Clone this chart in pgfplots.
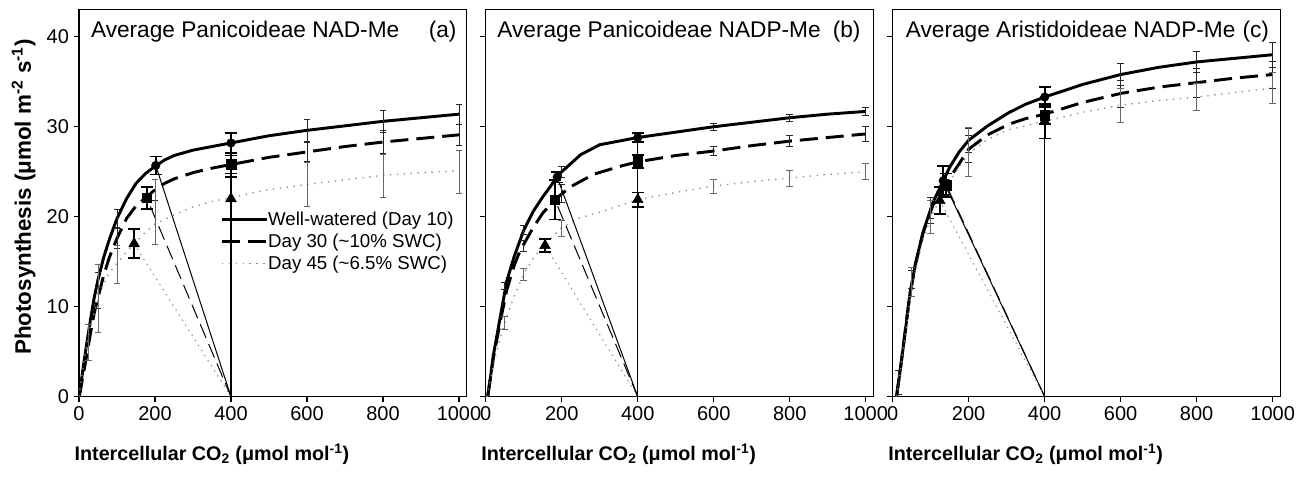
\documentclass[border=0pt]{standalone}
\usepackage{pgfplots}
\pgfplotsset{compat=1.18}
\usepackage{fontspec}
\setmainfont{Liberation Sans}
\definecolor{dotgray}{gray}{0.55}
\tikzset{
  ptitle/.style={anchor=base west, font=\fontsize{17}{17}\selectfont, inner sep=0pt},
  plabel/.style={anchor=base east, font=\fontsize{17}{17}\selectfont, inner sep=0pt},
}
\pgfplotsset{
  panel/.style={
    scale only axis, width=290.7pt, height=290.25pt,
    xmin=0, xmax=1020, ymin=0, ymax=43,
    xtick={0,200,400,600,800,1000}, ytick={0,10,20,30,40},
    tick align=outside, tick pos=left,
    major tick length=4pt,
    axis line style={line width=0.8pt},
    every tick/.style={black, line width=0.8pt},
    /pgf/number format/assume math mode=true,
    /pgf/number format/1000 sep={},
    tick label style={font=\fontsize{15}{15}\selectfont},
    xlabel style={at={(axis description cs:0.343,-0.165)}, anchor=base, font=\fontsize{14.8}{15}\selectfont\bfseries},
    ylabel style={at={(axis description cs:-0.124,0.516)}, anchor=base, rotate=0, font=\fontsize{16.8}{17}\selectfont\bfseries},
    xlabel={Intercellular CO\textsubscript{2} (μmol mol\textsuperscript{-1})},
  },
  curveA/.style={black, line width=2.2pt},
  curveB/.style={black, line width=2.2pt, dash pattern=on 13.5pt off 6pt},
  curveC/.style={dotgray, line width=1pt, dash pattern=on 1pt off 4.2pt},
  supA/.style={black, line width=0.75pt, forget plot},
  supB/.style={black, line width=0.75pt, dash pattern=on 11pt off 5pt, forget plot},
  supC/.style={dotgray, line width=0.8pt, dash pattern=on 1pt off 3.5pt, forget plot},
  thinbar/.style={only marks, mark=text, text mark={}, forget plot, #1, error bars/.cd, y dir=both, y explicit, error bar style={#1, line width=0.6pt, solid}, error mark options={#1, rotate=90, mark size=2.5pt, line width=0.6pt, solid}},
  mkbar/.style={only marks, forget plot, black, mark=#1, mark options={fill=black, solid}, error bars/.cd, y dir=both, y explicit, error bar style={line width=1.3pt, solid}, error mark options={rotate=90, mark size=4.5pt, line width=1.3pt, solid}},
}
\begin{document}
\begin{tikzpicture}
\path[use as bounding box] (0,0) rectangle (979.5pt,359.25pt);
% ---------------- panel (a)
\begin{axis}[panel, at={(59.25pt,61.7pt)}, anchor=south west,
  ylabel={Photosynthesis (μmol m\textsuperscript{-2} s\textsuperscript{-1})},
  ylabel style={rotate=0},
  legend style={draw=none, fill=none, at={(axis cs:371,20.6)}, anchor=north west, inner sep=0pt,
    font=\fontsize{14}{14}\selectfont, row sep=5pt, nodes={inner sep=0pt, text depth=0.15em},
    /tikz/every even column/.append style={column sep=9pt}},
  legend image code/.code={\draw[#1] (0pt,0pt) -- (33.75pt,0pt);},
  legend cell align=left]
\addplot[curveA] table {
x y
0 0
3 0.6
10 3
20 5.8
30 8.5
40 11
50 13
65 15.5
80 17.5
100 19.8
125 22
150 23.7
175 24.8
200 25.6
225 26.3
250 26.8
300 27.4
350 27.8
400 28.2
500 29
600 29.6
700 30.1
800 30.6
900 31
1000 31.4
};
\addlegendentry{Well-watered (Day 10)}
\addplot[curveB] table {
x y
0 0
5 1
10 2.2
20 4.5
30 7
40 9.3
50 11
65 13.5
80 15.5
100 17.6
125 19.8
150 21.2
178 22.2
200 23
225 23.7
250 24.2
300 24.9
350 25.4
400 25.8
500 26.6
600 27.2
700 27.8
800 28.3
900 28.7
1000 29.1
};
\addlegendentry{Day 30 (\textasciitilde10\% SWC)}
\addplot[curveC] table {
x y
0 0
10 3
16 4.8
30 7.8
50 10.8
64 12.5
80 13.8
100 14.8
125 16.1
150 17.2
178 18.4
200 19.2
240 20
300 21.1
350 21.7
400 22.1
450 22.6
500 23
600 23.6
700 24.1
800 24.6
900 24.9
1000 25.1
};
\addlegendentry{Day 45 (\textasciitilde6.5\% SWC)}
\addplot[supA] coordinates {(400,0) (202,25.7)};
\addplot[supB] coordinates {(400,0) (178,22.1)};
\addplot[supC] coordinates {(400,0) (145,17.0)};
\addplot[black, line width=1pt, forget plot] coordinates {(400,0) (400,28.2)};
\addplot[thinbar=black!85] table[x=x, y=y, y error=e] {
x y e
50 13 0.8
100 19.8 1.0
600 29.6 1.2
800 30.6 1.2
1000 31.4 1.1
};
\addplot[thinbar=black!85] table[x=x, y=y, y error=e] {
x y e
50 11 1.2
100 17.6 1.1
200 23 1.2
600 27.2 1.1
800 28.3 1.3
1000 29.1 1.2
};
\addplot[thinbar=black!60] table[x=x, y=y, y error=e] {
x y e
25 6 2
50 10.9 3.8
100 14.7 2.1
200 20.5 3.6
600 23.6 2.4
800 24.5 2.4
1000 25 2.4
};
\addplot[mark size=3.2pt, mkbar=*] table[x=x, y=y, y error=e] {
x y e
202 25.7 1.0
400 28.2 1.1
};
\addplot[mark size=3.6pt, mkbar=square*] table[x=x, y=y, y error=e] {
x y e
178 22.1 1.2
400 25.8 1.0
};
\addplot[mark size=4.6pt, mkbar=triangle*] table[x=x, y=y, y error=e] {
x y e
145 17.0 1.6
400 22.0 2.4
};
\node[ptitle] at (axis cs:31,39.9) {Average Panicoideae NAD-Me};
\node[plabel] at (axis cs:994,39.9) {(a)};
\end{axis}
% ---------------- panel (b)
\begin{axis}[panel, at={(364.3pt,61.7pt)}, anchor=south west, yticklabels={}]
\addplot[curveA] table {
x y
5 0
12 2
20 4.6
38 8.8
55 12.8
75 15.6
100 18.5
125 20.6
150 22.2
188 24.4
200 25
250 26.9
300 28
350 28.4
400 28.8
500 29.4
600 30
700 30.5
800 31
900 31.4
1000 31.7
};
\addplot[curveB] table {
x y
5 0
20 4.3
38 8.3
55 11.8
75 14.6
90 16.2
125 18.8
150 20.4
182 21.9
222 23.3
283 24.7
353 25.6
400 26.1
500 26.8
600 27.3
700 27.9
800 28.4
900 28.8
1000 29.2
};
\addplot[curveC] table {
x y
3 0
20 3.5
35 6
50 8.2
75 11.2
100 13.6
125 15.4
156 16.9
200 18.8
248 19.9
300 20.5
350 21.2
400 21.9
500 22.7
600 23.4
700 23.9
800 24.3
900 24.7
1000 25
};
\addplot[supA] coordinates {(400,0) (188,24.4)};
\addplot[supB] coordinates {(400,0) (182,21.9)};
\addplot[supC] coordinates {(400,0) (156,16.8)};
\addplot[black, line width=1pt, forget plot] coordinates {(400,0) (400,28.8)};
\addplot[thinbar=black!85] table[x=x, y=y, y error=e] {
x y e
50 12.3 0.4
100 18.5 0.5
200 25 0.6
600 30 0.4
800 31 0.4
1000 31.7 0.4
};
\addplot[thinbar=black!85] table[x=x, y=y, y error=e] {
x y e
100 16.8 0.6
200 22.6 1.0
600 27.3 0.5
800 28.4 0.6
1000 29.2 0.8
};
\addplot[thinbar=black!60] table[x=x, y=y, y error=e] {
x y e
50 8.2 0.7
100 13.6 0.7
200 18.7 0.9
600 23.4 0.8
800 24.3 0.9
1000 25 0.9
};
\addplot[mark size=3.2pt, mkbar=*] table[x=x, y=y, y error=e] {
x y e
188 24.4 0.6
400 28.8 0.5
};
\addplot[mark size=3.6pt, mkbar=square*] table[x=x, y=y, y error=e] {
x y e
182 21.9 2.2
400 26.15 0.75
};
\addplot[mark size=4.6pt, mkbar=triangle*] table[x=x, y=y, y error=e] {
x y e
156 16.8 0.7
400 21.9 0.8
};
\node[ptitle] at (axis cs:30,39.9) {Average Panicoideae NADP-Me};
\node[plabel] at (axis cs:987,39.9) {(b)};
\end{axis}
% ---------------- panel (c)
\begin{axis}[panel, at={(669.5pt,61.7pt)}, anchor=south west, yticklabels={}]
\addplot[curveA] table {
x y
10 0
20 3
30 6.2
45 11.3
60 14.8
80 18.3
106 21.6
133 24
150 25.5
175 27.2
200 28.5
250 30.1
307 31.6
350 32.5
400 33.3
500 34.7
600 35.8
700 36.6
800 37.2
900 37.6
1000 38
};
\addplot[curveB] table {
x y
10 0
20 3
45 11.3
60 14.7
80 18.2
106 21.3
141 23.5
150 24.3
200 27.5
250 29.1
307 30.3
350 30.9
400 31.4
500 32.7
600 33.7
700 34.4
800 34.9
900 35.4
1000 35.8
};
\addplot[curveC] table {
x y
10 0
20 2.8
45 10.5
60 14
80 17.5
106 20.5
124 21.8
150 24
200 27
250 28.6
300 29.6
400 30.6
500 31.6
600 32.4
700 32.9
800 33.3
900 33.8
1000 34.3
};
\addplot[supA] coordinates {(400,0) (133,24.0)};
\addplot[supB] coordinates {(400,0) (141,23.5)};
\addplot[supC] coordinates {(400,0) (124,21.8)};
\addplot[black, line width=1pt, forget plot] coordinates {(400,0) (400,33.3)};
\addplot[thinbar=black!85] table[x=x, y=y, y error=e] {
x y e
15 1.6 1.3
50 13.2 1.2
100 21 1.2
200 28.5 1.3
600 35.8 1.2
800 37.2 1.2
1000 38 1.4
};
\addplot[thinbar=black!85] table[x=x, y=y, y error=e] {
x y e
50 13 1
100 20.7 1.4
200 27.5 1.5
600 33.7 1.5
800 34.9 1.6
1000 35.8 1.5
};
\addplot[thinbar=black!60] table[x=x, y=y, y error=e] {
x y e
50 12.8 1.6
100 20 1.8
200 27.2 2.7
600 32.4 1.9
800 33.3 1.5
1000 34.3 1.7
};
\addplot[mark size=3.2pt, mkbar=*] table[x=x, y=y, y error=e] {
x y e
133 24.0 1.6
400 33.3 1.1
};
\addplot[mark size=3.6pt, mkbar=square*] table[x=x, y=y, y error=e] {
x y e
141 23.5 1.3
400 31.3 1.0
};
\addplot[mark size=4.6pt, mkbar=triangle*] table[x=x, y=y, y error=e] {
x y e
124 21.8 1.5
400 30.6 1.9
};
\node[ptitle] at (axis cs:34,39.9) {Average Aristidoideae NADP-Me};
\node[plabel] at (axis cs:991,39.9) {(c)};
\end{axis}
\end{tikzpicture}
\end{document}
